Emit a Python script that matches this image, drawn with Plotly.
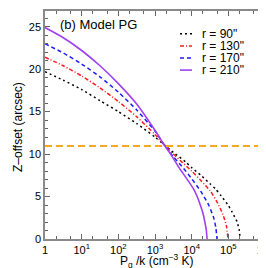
import plotly.graph_objects as go

# ---- data ----
pg_r90 = [1, 3.16, 10, 31.6, 100, 316, 1000, 1778, 3162, 6761, 10000, 19055,
          31623, 44668, 63096, 100000, 125893, 173780, 199526, 208930]
z_r90 = [19.7, 18.7, 17.6, 16.3, 15.0, 13.6, 12.0, 11.1, 10.2, 9.1, 8.4, 7.4,
         6.5, 5.9, 5.1, 3.95, 3.2, 2.0, 1.0, 0]

pg_r130 = [1, 3.16, 10, 31.6, 100, 316, 1000, 1778, 3162, 5623, 10000, 17783,
           31623, 50119, 70795, 89125, 97724]
z_r130 = [21.4, 20.4, 19.2, 17.8, 16.2, 14.4, 12.3, 11.1, 10.0, 9.0, 8.0, 6.9,
          5.7, 4.3, 2.9, 1.5, 0]

pg_r170 = [1, 3.16, 10, 31.6, 100, 316, 1000, 1778, 3162, 6026, 10000, 17783,
           29512, 39811, 45709, 48978]
z_r170 = [23.0, 21.9, 20.6, 19.1, 17.3, 15.2, 12.7, 11.1, 9.7, 8.3, 7.1, 5.6,
          3.95, 2.5, 1.3, 0]

pg_r210 = [1, 3.16, 10, 31.6, 100, 316, 1000, 1778, 3162, 4365, 7079, 11220,
           14125, 17378, 20417, 22909, 25119, 26303]
z_r210 = [24.9, 23.7, 22.2, 20.4, 18.3, 15.9, 12.8, 11.1, 9.5, 8.5, 7.2, 5.9,
          5.0, 3.95, 3.0, 2.0, 1.0, 0]

series_labels = ['r = 90"', 'r = 130"', 'r = 170"', 'r = 210"']
threshold_z = 10.95

x_tickvals = [1, 10, 100, 1000, 1e4, 1e5, 1e6]
x_ticktext = ["1", "10<sup>1</sup>", "10<sup>2</sup>", "10<sup>3</sup>",
              "10<sup>4</sup>", "10<sup>5</sup>", "10<sup>6</sup>"]

# ---- styles ----
styles = [
    dict(color="black", dash="2px,3px", width=1.5),
    dict(color="#FF1A1A", dash="4px,2px,1px,2px", width=1.5),
    dict(color="#1A1AFF", dash="4px,3px", width=1.5),
    dict(color="#A040F0", dash="solid", width=1.6),
]
FONT = "Liberation Sans, Arial, sans-serif"

fig = go.Figure()
all_pg = [pg_r90, pg_r130, pg_r170, pg_r210]
all_z = [z_r90, z_r130, z_r170, z_r210]
for pg, z, lab, st in zip(all_pg, all_z, series_labels, styles):
    fig.add_trace(go.Scatter(x=pg, y=z, mode="lines", name=lab,
                             line=dict(color=st["color"], dash=st["dash"],
                                       width=st["width"], shape="spline",
                                       smoothing=0.6),
                             showlegend=False))

fig.add_hline(y=threshold_z, line=dict(color="#F7A823", dash="7px,4px", width=2))

# manual compact legend (paper coordinates)
L, R, T, B = 37, 257, 1, 231
def px2paper_x(px):
    return (px - L) / (R - L)
def px2paper_y(py):
    return (B - py) / (B - T)

for i, (lab, st) in enumerate(zip(series_labels, styles)):
    py = 24 + 12.2 * i
    fig.add_shape(type="line", xref="paper", yref="paper",
                  x0=px2paper_x(172), x1=px2paper_x(184),
                  y0=px2paper_y(py), y1=px2paper_y(py),
                  line=dict(color=st["color"], dash=st["dash"], width=st["width"]))
    fig.add_annotation(text=lab, xref="paper", yref="paper",
                       x=px2paper_x(192), y=px2paper_y(py),
                       xanchor="left", yanchor="middle", showarrow=False,
                       font=dict(size=12, color="black", family=FONT))

fig.add_annotation(text="(b) Model PG", xref="paper", yref="paper",
                   x=px2paper_x(50), y=px2paper_y(15),
                   xanchor="left", yanchor="middle", showarrow=False,
                   font=dict(size=13, color="black", family=FONT))

# axis titles as annotations for exact placement
fig.add_annotation(text="P<sub>g</sub> /k (cm<sup>−3</sup> K)",
                   xref="paper", yref="paper",
                   x=px2paper_x(149), y=px2paper_y(253.5),
                   xanchor="center", yanchor="middle", showarrow=False,
                   font=dict(size=12, color="black", family=FONT))
fig.add_annotation(text="Z–offset (arcsec)", textangle=-90,
                   xref="paper", yref="paper",
                   x=px2paper_x(10), y=px2paper_y(118),
                   xanchor="center", yanchor="middle", showarrow=False,
                   font=dict(size=12, color="black", family=FONT))

axis_common = dict(showline=True, linecolor="#8a8a8a", linewidth=1.5,
                   mirror="ticks", ticks="inside", tickcolor="#666",
                   showgrid=False, zeroline=False,
                   tickfont=dict(size=11, color="black", family=FONT))

fig.update_xaxes(type="log", range=[0, 6], tickvals=x_tickvals,
                 ticktext=x_ticktext, ticklen=5, ticklabeloverflow="allow",
                 minor=dict(ticks="inside", ticklen=3, tickcolor="#666",
                            showgrid=False),
                 **axis_common)
fig.update_yaxes(range=[0, 26.85], dtick=5, ticklen=5,
                 minor=dict(ticks="inside", ticklen=3, dtick=1,
                            tickcolor="#666", showgrid=False),
                 **axis_common)

fig.update_layout(width=266, height=268,
                  margin=dict(l=L, r=266 - R, t=T, b=268 - B),
                  plot_bgcolor="white", paper_bgcolor="white",
                  showlegend=False)

fig.write_html("out.html")
